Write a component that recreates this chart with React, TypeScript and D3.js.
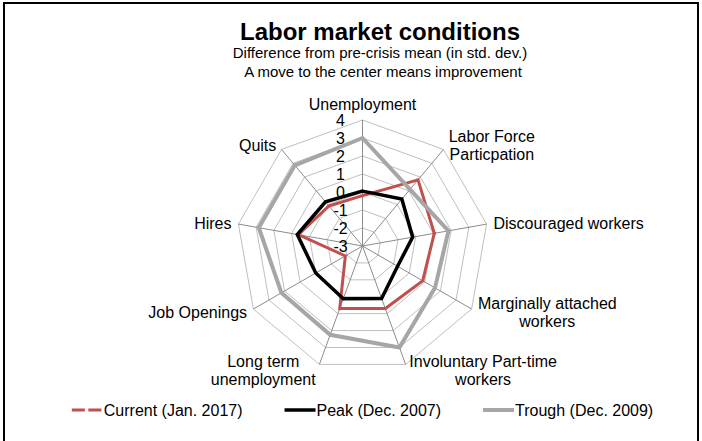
import * as d3 from 'd3'

const categories = [
  'Unemployment',
  'Labor Force\nParticpation',
  'Discouraged workers',
  'Marginally attached\nworkers',
  'Involuntary Part-time\nworkers',
  'Long term\nunemployment',
  'Job Openings',
  'Hires',
  'Quits',
]

const current = [-0.2, 1.8, 1.05, 0.86, 0.7, 0.7, -1.9, 0.62, -0.1]
const peak = [0.05, 0.4, -0.17, -0.75, 0.1, 0.12, 0.0, 0.68, 0.2]
const trough = [3.0, 1.1, 1.85, 1.65, 3.0, 2.25, 2.2, 2.85, 2.85]

const ticks = [-3, -2, -1, 0, 1, 2, 3, 4]

const seriesNames = ['Current (Jan. 2017)', 'Peak (Dec. 2007)', 'Trough (Dec. 2009)']

const W = 702
const H = 441
const cx = 362.5
const cy = 246
const R = 126
const FONT = "'Liberation Sans', Arial, sans-serif"

let ctx: CanvasRenderingContext2D | null = null
function textWidth(s: string, size = 16) {
  if (!ctx) ctx = document.createElement('canvas').getContext('2d')
  if (!ctx) return s.length * size * 0.5
  ctx.font = `${size}px ${FONT}`
  return ctx.measureText(s).width
}

export default function App() {
  const r = d3.scaleLinear().domain([ticks[0], ticks[ticks.length - 1]]).range([0, R])
  const n = categories.length
  const ang = (i: number) => (i * 2 * Math.PI) / n
  const pt = (v: number, i: number): [number, number] => [
    r(v) * Math.sin(ang(i)),
    -r(v) * Math.cos(ang(i)),
  ]

  const radial = d3
    .lineRadial<number>()
    .angle((_, i) => ang(i))
    .radius(d => r(d))
    .curve(d3.curveLinearClosed)

  const series = [
    { values: current, color: '#C0504D', width: 3, dash: '13 3.5', split: true },
    { values: peak, color: '#000000', width: 3.5, dash: undefined, split: false },
    { values: trough, color: '#A6A6A6', width: 4, dash: undefined, split: false },
  ]

  // category labels, placed around the outer ring
  const labels = categories.map((c, i) => {
    const a = ang(i)
    const s = Math.sin(a)
    const co = Math.cos(a)
    const vx = cx + R * s
    const vy = cy - R * co
    const lines = c.split('\n')
    const lh = 18
    const bw = Math.max(...lines.map(l => textWidth(l)))
    let x = vx
    let y0: number
    if (Math.abs(s) < 0.1) {
      y0 = vy - 10 - (lines.length - 1) * lh
    } else {
      const pad = 2 + 5 * Math.abs(s)
      const left = s > 0 ? vx + pad : vx - pad - bw
      x = left + bw / 2
      const mid = vy - co * 6
      y0 = mid - ((lines.length - 1) * lh) / 2 + 5.7
    }
    return { lines, x, y0, lh }
  })

  // legend layout
  const lineLen = 31
  const gap = 42
  const items = seriesNames.map(s => lineLen + 1 + textWidth(s))
  const total = d3.sum(items) + gap * (items.length - 1)
  let lx = cx - total / 2
  const legend = items.map((w, i) => {
    const x = lx
    lx += w + gap
    return { x, name: seriesNames[i], s: series[i] }
  })
  const ly = 410

  return (
    <svg
      width={W}
      height={H}
      style={{ position: 'absolute', left: 0, top: 0, background: '#fff' }}
      fontFamily={FONT}
    >
      <rect x={0} y={0} width={W} height={H} fill="#fff" />
      <rect x={4} y={3} width={694} height={470} fill="none" stroke="#000" strokeWidth={2} />

      <text x={380} y={40} textAnchor="middle" fontSize={24} fontWeight="bold" fill="#000">
        Labor market conditions
      </text>
      <text x={380} y={58} textAnchor="middle" fontSize={15} fill="#000">
        Difference from pre-crisis mean (in std. dev.)
      </text>
      <text x={383} y={77} textAnchor="middle" fontSize={15} fill="#000">
        A move to the center means improvement
      </text>

      <g transform={`translate(${cx},${cy})`}>
        {/* rings */}
        {ticks.slice(1).map(t => (
          <path
            key={t}
            d={radial(categories.map(() => t)) || ''}
            fill="none"
            stroke="#BFBFBF"
            strokeWidth={1}
          />
        ))}
        {/* spokes */}
        {categories.map((_, i) => {
          const [x2, y2] = pt(ticks[ticks.length - 1], i)
          return <line key={i} x1={0} y1={0} x2={x2} y2={y2} stroke="#8C8C8C" strokeWidth={1} />
        })}
        {series.map((s, i) =>
          s.split ? (
            // dashed series: each segment drawn on its own, so the gap falls at the vertex
            <g key={i}>
              {s.values.map((v, j) => {
                const k = (j + 1) % n
                const [x1, y1] = pt(v, j)
                const [x2, y2] = pt(s.values[k], k)
                const len = Math.hypot(x2 - x1, y2 - y1)
                return (
                  <line
                    key={j}
                    x1={x1}
                    y1={y1}
                    x2={x2}
                    y2={y2}
                    stroke={s.color}
                    strokeWidth={s.width}
                    strokeDasharray={`${Math.max(len - 2.5, 0)} 2.5`}
                    strokeLinecap="square"
                  />
                )
              })}
            </g>
          ) : (
            <path
              key={i}
              d={radial(s.values) || ''}
              fill="none"
              stroke={s.color}
              strokeWidth={s.width}
              strokeLinejoin="miter"
            />
          )
        )}
        {ticks.map(t => (
          <text
            key={t}
            x={-22}
            y={-r(t)}
            dy="0.36em"
            textAnchor="middle"
            fontSize={16}
            fill="#000"
          >
            {t}
          </text>
        ))}
      </g>

      {labels.map((l, i) =>
        l.lines.map((ln, j) => (
          <text
            key={`${i}-${j}`}
            x={l.x}
            y={l.y0 + j * l.lh}
            textAnchor="middle"
            fontSize={16}
            fill="#000"
          >
            {ln}
          </text>
        ))
      )}

      {legend.map((it, i) => (
        <g key={i}>
          <line
            x1={it.x}
            y1={ly}
            x2={it.x + lineLen}
            y2={ly}
            stroke={it.s.color}
            strokeWidth={it.s.width}
            strokeDasharray={it.s.dash}
          />
          <text x={it.x + lineLen + 1} y={ly + 5.5} fontSize={16} fill="#000">
            {it.name}
          </text>
        </g>
      ))}
    </svg>
  )
}
